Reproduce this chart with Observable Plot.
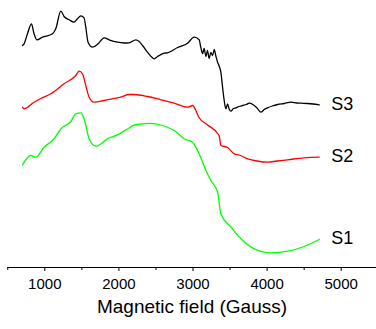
<!DOCTYPE html>
<html>
<head>
<meta charset="utf-8">
<script src="https://cdn.jsdelivr.net/npm/d3@7"></script>
<script src="https://cdn.jsdelivr.net/npm/@observablehq/plot@0.6"></script>
<style>
  html, body { margin: 0; padding: 0; background: #fff; }
  #chart { width: 376px; height: 329px; }
</style>
</head>
<body>
<div id="chart"></div>
<script>
// ---- data (intensity in arbitrary units) ----
const seriesNames = ["S3", "S2", "S1"];
const seriesColors = ["#000000", "#ff0000", "#00ff00"];

const fieldS3 = [698, 720, 766, 820, 855, 892, 969, 1104, 1148, 1216, 1260, 1328, 1395, 1441, 1486, 1530, 1553, 1584, 1644, 1719, 1800, 1868, 1981, 2066, 2138, 2229, 2269, 2319, 2386, 2454, 2476, 2522, 2611, 2657, 2792, 2927, 3016, 3083, 3105, 3130, 3150, 3175, 3195, 3218, 3240, 3265, 3286, 3310, 3332, 3355, 3376, 3399, 3421, 3444, 3467, 3490, 3512, 3545, 3579, 3620, 3669, 3720, 3759, 3826, 3870, 3917, 3960, 4007, 4070, 4142, 4230, 4322, 4400, 4457, 4550, 4620, 4704];
const signalS3 = [222, 223.7, 233.7, 243.7, 233.7, 227.7, 230.3, 233.7, 238.7, 256.3, 251, 247.7, 245.3, 248.7, 251.7, 249.7, 240.3, 225.3, 220.3, 223.7, 229.7, 227.7, 225.3, 224.5, 224.7, 227.7, 226.3, 222, 215.3, 209.7, 208.7, 211, 214.3, 214.7, 220, 224.3, 230.3, 227.7, 220.3, 214, 219, 211, 217, 209, 215, 212, 218, 211, 205.3, 201, 195.3, 180.3, 167, 158.7, 163.7, 158, 156.3, 159, 159.7, 161, 162, 163, 164.3, 162, 159, 155.3, 158, 159.7, 161.5, 163, 164, 165.3, 164.5, 164.3, 164, 163.5, 162.7];

const fieldS2 = [698, 720, 855, 946, 1081, 1260, 1418, 1463, 1509, 1553, 1598, 1665, 1800, 1981, 2026, 2138, 2206, 2386, 2566, 2746, 2927, 2994, 3039, 3079, 3197, 3332, 3356, 3376, 3467, 3556, 3624, 3737, 3863, 4007, 4133, 4277, 4501, 4704];
const signalS2 = [160.3, 158.7, 165.3, 169, 173.7, 183.7, 192, 196.3, 193.7, 182, 170.3, 165.3, 167, 169.7, 170.3, 173, 173, 171, 167.7, 164.3, 160.3, 162, 157, 150.3, 142.5, 134, 131, 122, 120, 113.7, 112.5, 108.7, 106.5, 105.3, 106.5, 107.7, 109.7, 110.3];

const fieldS1 = [698, 811, 878, 990, 1125, 1216, 1351, 1418, 1486, 1530, 1598, 1688, 1846, 1981, 2138, 2206, 2408, 2589, 2746, 2881, 2994, 3083, 3174, 3241, 3332, 3376, 3512, 3647, 3826, 4052, 4277, 4501, 4704];
const signalS1 = [102.7, 112, 110.3, 120.3, 128.7, 138.7, 146, 153.7, 154.7, 148.7, 128.7, 121.3, 128.7, 132.7, 139.5, 142.5, 144.2, 142, 137, 128.7, 125, 113.7, 97, 87, 75.3, 53.7, 40.3, 28.7, 18.7, 14.7, 16.3, 21, 28];

const majorTicks = [1000, 2000, 3000, 4000, 5000];
const minorTicks = [500, 1500, 2500, 3500, 4500, 5500];
const xTitle = "Magnetic field (Gauss)";

// ---- build table ----
const fields = [fieldS3, fieldS2, fieldS1];
const signals = [signalS3, signalS2, signalS1];
const rows = [];
seriesNames.forEach((name, i) => {
  fields[i].forEach((f, j) => rows.push({series: name, field: f, signal: signals[i][j]}));
});
const lastPoints = seriesNames.map((name, i) => ({
  series: name,
  field: fields[i][fields[i].length - 1],
  signal: signals[i][signals[i].length - 1]
}));

const chart = Plot.plot({
  width: 376,
  height: 329,
  marginLeft: 7,
  marginRight: 0,
  marginTop: 0,
  marginBottom: 62,
  style: {fontFamily: "'Liberation Sans', Arial, sans-serif", background: "#fff", color: "#000"},
  x: {domain: [500, 5500], range: [7.25, 377.75]},
  y: {domain: [0, 267], axis: null},
  color: {domain: seriesNames, range: seriesColors},
  marks: [
    Plot.ruleY([0], {x1: 500, x2: 5500, stroke: "#000", strokeWidth: 1}),
    Plot.axisX({ticks: minorTicks, tickSize: 3, text: null, label: null, stroke: "#000"}),
    Plot.axisX({ticks: majorTicks, tickSize: 4, tickPadding: 7, tickFormat: d => String(d), fontSize: 15, label: null, stroke: "#000", fill: "#000"}),
    Plot.line(rows, {x: "field", y: "signal", z: "series", stroke: "series", strokeWidth: 1.3, curve: "monotone-x"}),
    Plot.text(lastPoints, {x: "field", y: "signal", text: "series", textAnchor: "start", dx: 12, dy: -1, fontSize: 18, fill: "#000"}),
    Plot.text([xTitle], {frameAnchor: "bottom", dy: 45, fontSize: 19, fill: "#000"})
  ]
});
document.getElementById("chart").appendChild(chart);
</script>
</body>
</html>
